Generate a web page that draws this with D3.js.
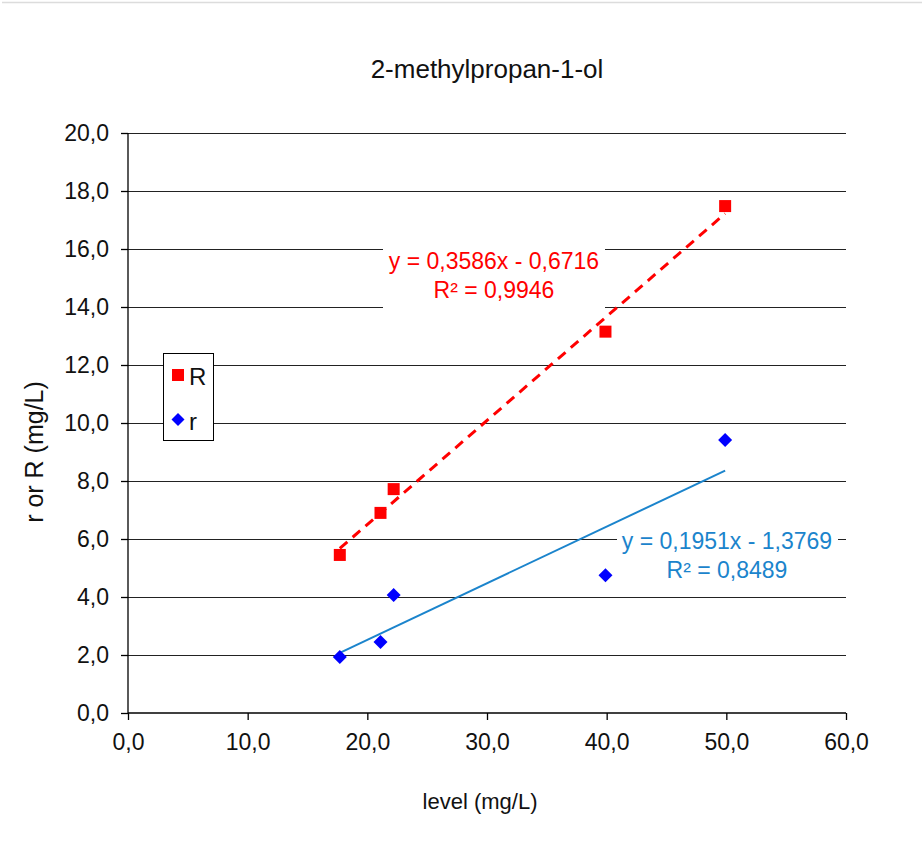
<!DOCTYPE html>
<html><head><meta charset="utf-8">
<script src="https://cdn.jsdelivr.net/npm/d3@7/dist/d3.min.js"></script>
<style>body{margin:0;background:#fff}svg{display:block;font-family:"Liberation Sans",Arial,sans-serif}</style>
</head><body>
<svg id="c" width="922" height="842"></svg>
<script>
const title = "2-methylpropan-1-ol";
const xTicks = [0,10,20,30,40,50,60];
const yTicks = [0,2,4,6,8,10,12,14,16,18,20];
const levelR = [17.7, 21.1, 22.2, 39.9, 49.9];
const valuesR = [5.45, 6.9, 7.72, 13.15, 17.48];
const levelr = [17.7, 21.1, 22.2, 39.9, 49.9];
const valuesr = [1.93, 2.45, 4.07, 4.75, 9.41];
const fitR = [0.3586, -0.6716];
const fitr = [0.1951, -1.3769];
const labelR = ["y = 0,3586x - 0,6716", "R² = 0,9946"];
const labelr = ["y = 0,1951x - 1,3769", "R² = 0,8489"];

const svg = d3.select("#c");
const fmt = d => d.toFixed(1).replace(".", ",");
const x = d3.scaleLinear().domain([0,60]).range([128,846]);
const y = d3.scaleLinear().domain([0,20]).range([713,133]);

svg.append("line").attr("x1",2).attr("x2",922).attr("y1",2.5).attr("y2",2.5).attr("stroke","#dcdcdc").attr("stroke-width",1.5);

// gridlines
svg.append("g").selectAll("line").data(yTicks.filter(d=>d>0)).join("line")
  .attr("x1",x(0)).attr("x2",x(60)).attr("y1",d=>Math.round(y(d))+0.5).attr("y2",d=>Math.round(y(d))+0.5)
  .attr("stroke","#222").attr("stroke-width",1.2);

// axes
const ya = svg.append("g").attr("transform",`translate(${x(0)},0)`)
  .call(d3.axisLeft(y).tickValues(yTicks).tickFormat(fmt).tickSize(7).tickPadding(12));
const xa = svg.append("g").attr("transform",`translate(0,${y(0)})`)
  .call(d3.axisBottom(x).tickValues(xTicks).tickFormat(fmt).tickSize(7).tickPadding(14));
[ya,xa].forEach(a=>{a.select(".domain").attr("stroke","#000").attr("stroke-width",1.3);
  a.selectAll(".tick line").attr("stroke","#000").attr("stroke-width",1.3);
  a.selectAll("text").attr("font-size",23).attr("fill","#111").attr("font-family","Liberation Sans, Arial, sans-serif");});
ya.select(".domain").attr("d",`M0,${y(0)}V${y(20)}`);
ya.selectAll(".tick line").attr("x2",-7);
xa.select(".domain").attr("d",`M${x(0)},0H${x(60)}`);

// trendlines
const line = d3.line().x(d=>x(d[0])).y(d=>y(d[1]));
const ext = a => [d3.min(a), d3.max(a)];
svg.append("path").datum(ext(levelR).map(v=>[v, fitR[0]*v+fitR[1]])).attr("d",line)
  .attr("stroke","#ff0000").attr("stroke-width",3).attr("stroke-dasharray","10,7").attr("fill","none");
svg.append("path").datum(ext(levelr).map(v=>[v, fitr[0]*v+fitr[1]])).attr("d",line)
  .attr("stroke","#1b84cc").attr("stroke-width",2).attr("fill","none");

// labels
function eqLabel(lines, cx, by, color, box){
  const g = svg.append("g");
  g.append("rect").attr("x",box[0]).attr("y",box[1]).attr("width",box[2]).attr("height",box[3]).attr("fill","#fff");
  g.selectAll("text").data(lines).join("text").attr("x",cx).attr("y",(d,i)=>by+i*29)
    .attr("text-anchor","middle").attr("font-size",23).attr("fill",color).text(d=>d);
}
eqLabel(labelR, 494, 269, "#ff0000", [383,244,222,68]);
eqLabel(labelr, 727, 549, "#1b84cc", [617,528,221,60]);

// markers
svg.append("g").selectAll("rect").data(levelR.map((v,i)=>[v,valuesR[i]])).join("rect")
  .attr("x",d=>x(d[0])-6).attr("y",d=>y(d[1])-6).attr("width",12).attr("height",12).attr("fill","#ff0000");
svg.append("g").selectAll("path").data(levelr.map((v,i)=>[v,valuesr[i]])).join("path")
  .attr("d",d=>`M${x(d[0])},${y(d[1])-7}l7,7l-7,7l-7,-7z`).attr("fill","#0000ff");

// legend
const lg = svg.append("g");
lg.append("rect").attr("x",163.5).attr("y",353.5).attr("width",50).attr("height",87).attr("fill","#fff").attr("stroke","#000").attr("stroke-width",1);
lg.append("rect").attr("x",172).attr("y",369).attr("width",12).attr("height",12).attr("fill","#ff0000");
lg.append("text").attr("x",189).attr("y",385).attr("font-size",24).attr("fill","#111").text("R");
lg.append("path").attr("d","M178,413l6.5,6.5l-6.5,6.5l-6.5,-6.5z").attr("fill","#0000ff");
lg.append("text").attr("x",189).attr("y",430).attr("font-size",24).attr("fill","#111").text("r");

// titles
svg.append("text").attr("x",487).attr("y",78).attr("text-anchor","middle").attr("font-size",26).attr("fill","#111").text(title);
svg.append("text").attr("x",480).attr("y",809).attr("text-anchor","middle").attr("font-size",22).attr("fill","#111").text("level (mg/L)");
svg.append("text").attr("transform","translate(43,452) rotate(-90)").attr("text-anchor","middle").attr("font-size",25).attr("fill","#111").text("r or R (mg/L)");
</script>
</body></html>
